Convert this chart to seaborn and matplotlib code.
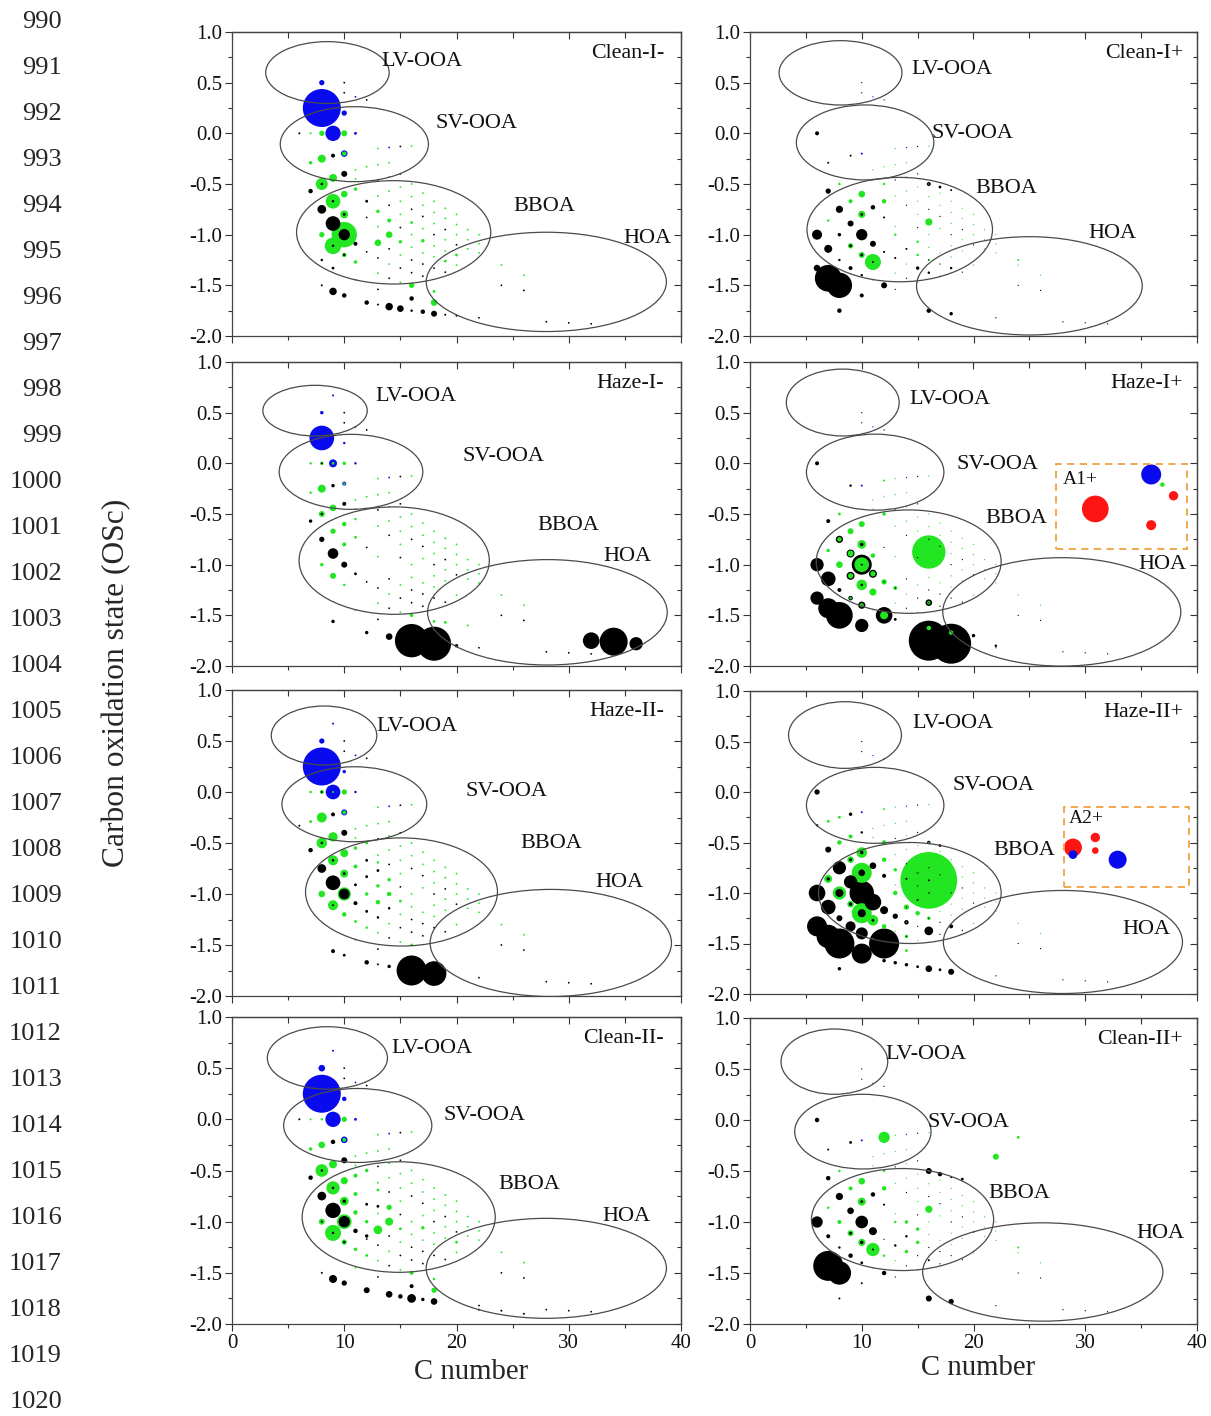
import numpy as np
import pandas as pd
import matplotlib
matplotlib.use("Agg")
import matplotlib.pyplot as plt
import seaborn as sns
from matplotlib.patches import Ellipse, Rectangle
from matplotlib.ticker import FormatStrFormatter

sns.set_theme(style="white")
plt.rcParams['font.family'] = ['Liberation Serif', 'DejaVu Serif']
plt.rcParams['axes.unicode_minus'] = False

# ---------------- data (C number, OSc, group, relative abundance) ----------------
PANEL_NAMES = ["Clean-I-", "Clean-I+", "Haze-I-", "Haze-I+",
               "Haze-II-", "Haze-II+", "Clean-II-", "Clean-II+"]

CLEAN_I_M = [
    (8, 0.25, 'b', 361), (8, 0.5, 'b', 7), (10, 0.2, 'b', 7), (9, 0.0, 'b', 59),
    (8, 0.0, 'g', 7), (10, 0.0, 'g', 9), (11, 0.0, 'b', 2), (7, 0.0, 'g', 1), (6, 0.0, 'k', 1),
    (10, -0.2, 'b', 11), (10, -0.2, 'g', 5), (8, -0.25, 'g', 16), (9, -0.22, 'k', 4), (7, -0.29, 'g', 3),
    (10, -0.4, 'k', 9), (9, -0.44, 'g', 16), (8, -0.5, 'g', 36), (8, -0.5, 'k', 1.5), (7, -0.57, 'k', 5),
    (9, -0.67, 'g', 54), (9, -0.67, 'k', 1.5), (10, -0.6, 'g', 11), (11, -0.55, 'g', 3), (8, -0.75, 'k', 19),
    (10, -0.8, 'g', 16), (10, -0.8, 'k', 2), (12, -0.67, 'k', 2), (9, -0.89, 'k', 54),
    (10, -1.0, 'g', 160), (10, -1.0, 'k', 32), (9, -1.11, 'g', 69), (9, -1.11, 'k', 1.5), (8, -1.0, 'g', 7),
    (11, -1.09, 'k', 4), (10, -1.2, 'g', 5), (10, -1.2, 'k', 1.5), (11, -1.27, 'g', 3), (8, -1.25, 'k', 1.5),
    (9, -1.33, 'k', 2), (13, -1.08, 'g', 11), (14, -1.0, 'g', 11), (14, -0.86, 'g', 4), (13, -0.77, 'g', 3),
    (15, -1.07, 'g', 3), (17, -1.06, 'g', 3), (16, -0.88, 'g', 2), (19, -1.26, 'g', 2), (20, -1.2, 'g', 2),
    (16, -1.5, 'g', 7), (18, -1.67, 'g', 11), (18, -1.56, 'g', 2), (16, -1.63, 'k', 5),
    (9, -1.56, 'k', 14), (10, -1.6, 'k', 5), (12, -1.67, 'k', 5), (14, -1.71, 'k', 14), (15, -1.73, 'k', 11),
    (17, -1.76, 'k', 5), (18, -1.78, 'k', 9), (8, -1.5, 'k', 1), (13, -1.69, 'k', 1), (16, -1.75, 'k', 1.5),
    (19, -1.79, 'k', 1), (20, -1.8, 'k', 1),
]

CLEAN_I_P = [
    (6, 0.0, 'k', 4), (10, -0.2, 'b', 1), (9, -0.22, 'k', 1), (7, -0.29, 'k', 1),
    (8, -0.5, 'g', 1.5), (12, -0.5, 'g', 1.5), (7, -0.57, 'k', 7), (10, -0.6, 'g', 11),
    (9, -0.67, 'g', 4), (12, -0.67, 'g', 5), (16, -0.5, 'k', 4), (17, -0.53, 'k', 2), (18, -0.56, 'k', 1),
    (8, -0.75, 'k', 13), (11, -0.73, 'k', 5), (10, -0.8, 'g', 13), (10, -0.8, 'k', 2), (9, -0.89, 'k', 9),
    (16, -0.875, 'g', 13), (6, -1.0, 'k', 25), (8, -1.0, 'k', 3), (10, -1.0, 'k', 32), (7, -0.86, 'g', 1.5),
    (7, -1.14, 'k', 16), (9, -1.11, 'g', 7), (9, -1.11, 'k', 2), (11, -1.09, 'k', 9), (10, -1.2, 'g', 9),
    (10, -1.2, 'k', 2), (11, -1.27, 'g', 64), (11, -1.27, 'k', 1), (8, -1.25, 'k', 1.5), (9, -1.33, 'k', 4),
    (6, -1.33, 'k', 11), (7, -1.43, 'k', 178), (8, -1.5, 'k', 160),
    (12, -1.5, 'k', 9), (10, -1.6, 'k', 4), (8, -1.75, 'k', 5), (16, -1.75, 'k', 5), (18, -1.78, 'k', 3),
    (15, -1.33, 'k', 3), (16, -1.375, 'k', 1.5), (18, -1.33, 'k', 1.5), (10, -1.4, 'k', 1.5),
    (24, -1.25, 'g', 1), (12, -0.83, 'k', 1), (12, -1.17, 'k', 1), (13, -1.0, 'g', 1.5), (14, -1.14, 'k', 1),
    (15, -1.07, 'g', 1.5), (15, -1.2, 'g', 1.5), (16, -1.25, 'g', 1), (13, -1.23, 'k', 1),
]

HAZE_I_M = [
    (8, 0.25, 'b', 152), (8, 0.5, 'b', 3), (9, 0.67, 'b', 1), (10, 0.2, 'b', 1.5),
    (7, 0.0, 'g', 1.5), (8, 0.0, 'g', 3), (8, 0.0, 'k', 1), (9, 0.0, 'b', 16), (9, 0.0, 'g', 2),
    (10, 0.0, 'g', 3), (11, 0.0, 'b', 1.5),
    (9, -0.22, 'k', 3), (10, -0.2, 'b', 4), (10, -0.2, 'g', 1.5), (8, -0.25, 'g', 16), (7, -0.29, 'g', 1.5),
    (10, -0.4, 'k', 4), (9, -0.44, 'g', 11), (8, -0.5, 'g', 9), (8, -0.5, 'k', 1.5), (7, -0.57, 'k', 3),
    (10, -0.6, 'g', 5), (9, -0.67, 'g', 7), (8, -0.75, 'k', 7), (10, -0.8, 'g', 4), (9, -0.89, 'k', 28),
    (10, -1.0, 'k', 9), (8, -1.0, 'g', 3), (9, -1.11, 'g', 9), (11, -1.09, 'k', 2), (10, -1.2, 'g', 1.5),
    (11, -0.73, 'g', 2), (11, -0.55, 'g', 1.5), (9, -1.56, 'k', 3), (12, -1.67, 'k', 3), (14, -1.71, 'k', 11),
    (16, -1.75, 'k', 278), (18, -1.78, 'k', 290), (20, -1.8, 'k', 3),
    (16, -1.5, 'g', 3), (18, -1.56, 'g', 2), (19, -1.57, 'g', 2), (21, -1.6, 'g', 1),
    (32, -1.75, 'k', 69), (34, -1.76, 'k', 196), (36, -1.78, 'k', 44),
]

HAZE_I_P = [
    (6, 0.0, 'k', 4), (12, -0.17, 'g', 1), (9, -0.22, 'k', 1.5), (10, -0.22, 'b', 1),
    (7, -0.57, 'k', 4), (8, -0.5, 'g', 2), (12, -0.5, 'g', 3), (10, -0.6, 'g', 9), (9, -0.67, 'g', 9),
    (8, -0.75, 'k', 13), (8, -0.75, 'g', 5), (10, -0.8, 'g', 19), (10, -0.8, 'k', 3), (11, -0.91, 'g', 5),
    (9, -0.89, 'k', 16), (9, -0.89, 'g', 9), (7, -0.86, 'g', 3), (6, -1.0, 'k', 44), (8, -1.0, 'g', 11),
    (10, -1.0, 'k', 100), (10, -1.0, 'g', 54), (10, -1.0, 'k', 1), (7, -1.14, 'k', 54),
    (9, -1.11, 'k', 16), (9, -1.11, 'g', 7), (11, -1.09, 'k', 16), (11, -1.09, 'g', 7),
    (10, -1.2, 'g', 28), (10, -1.2, 'k', 1.5), (11, -1.27, 'g', 13),
    (12, -1.17, 'g', 7), (13, -1.23, 'g', 4), (16, -0.875, 'g', 278), (8, -1.25, 'k', 4),
    (6, -1.33, 'k', 44), (7, -1.43, 'k', 100), (8, -1.5, 'k', 178), (9, -1.33, 'k', 5), (9, -1.33, 'g', 1.5),
    (10, -1.4, 'k', 13), (10, -1.4, 'g', 4), (10, -1.6, 'k', 44), (12, -1.5, 'k', 69), (12, -1.5, 'g', 16),
    (13, -1.54, 'k', 2), (16, -1.375, 'k', 11), (16, -1.375, 'g', 3),
    (16, -1.75, 'k', 400), (18, -1.78, 'k', 400), (16, -1.625, 'g', 5), (18, -1.67, 'g', 5),
    (20, -1.7, 'k', 3), (22, -1.8, 'k', 1.5),
    (35.9, -0.11, 'b', 100), (36.9, -0.21, 'g', 5), (37.9, -0.32, 'r', 22),
    (30.9, -0.45, 'r', 178), (35.9, -0.61, 'r', 25),
]

HAZE_II_M = [
    (8, 0.25, 'b', 361), (8, 0.5, 'b', 7), (9, 0.67, 'b', 1), (10, 0.2, 'b', 3),
    (9, 0.0, 'b', 54), (9, 0.0, 'g', 1), (8, 0.0, 'g', 4), (8, 0.0, 'k', 1), (10, 0.0, 'g', 7),
    (7, 0.0, 'g', 1.5), (11, 0.0, 'b', 1.5),
    (8, -0.25, 'g', 25), (9, -0.22, 'k', 4), (10, -0.2, 'b', 9), (10, -0.2, 'g', 4), (7, -0.29, 'g', 2),
    (6, -0.33, 'k', 1), (10, -0.4, 'k', 9), (9, -0.44, 'g', 22), (8, -0.5, 'g', 28), (8, -0.5, 'k', 1.5),
    (7, -0.57, 'k', 5), (10, -0.6, 'g', 16), (9, -0.67, 'g', 25), (9, -0.67, 'k', 1.5), (8, -0.75, 'k', 19),
    (10, -0.8, 'g', 16), (10, -0.8, 'k', 2), (9, -0.89, 'k', 54), (10, -1.0, 'g', 44), (10, -1.0, 'k', 28),
    (8, -1.0, 'g', 11), (9, -1.11, 'g', 25), (9, -1.11, 'k', 1), (11, -1.09, 'k', 4), (10, -1.2, 'g', 5),
    (11, -0.55, 'g', 3), (11, -0.73, 'g', 4), (11, -0.91, 'k', 2), (11, -1.27, 'g', 2), (12, -0.5, 'g', 2),
    (12, -0.67, 'k', 2), (12, -0.83, 'k', 2), (12, -1.0, 'g', 3), (12, -1.17, 'k', 2), (12, -1.33, 'g', 1.5),
    (13, -0.69, 'g', 1.5), (13, -0.77, 'k', 2), (13, -0.92, 'g', 3), (13, -1.08, 'g', 5), (13, -1.23, 'k', 1.5),
    (14, -0.86, 'g', 3), (14, -1.0, 'g', 5), (14, -1.14, 'k', 1.5), (15, -1.07, 'g', 2),
    (9, -1.56, 'k', 4), (10, -1.6, 'k', 2), (12, -1.67, 'k', 5), (13, -1.69, 'k', 1), (14, -1.71, 'k', 3),
    (16, -1.75, 'k', 225), (18, -1.78, 'k', 152), (16, -1.5, 'g', 2),
]

HAZE_II_P = [
    (6, 0.0, 'k', 7), (7, -0.29, 'g', 2), (8, -0.25, 'g', 2), (9, -0.22, 'k', 3), (10, -0.2, 'b', 1),
    (12, -0.17, 'g', 1), (6, -0.33, 'k', 1.5),
    (9, -0.44, 'g', 4), (10, -0.4, 'k', 1.5), (8, -0.5, 'g', 5), (12, -0.5, 'g', 5), (7, -0.57, 'k', 9),
    (10, -0.6, 'g', 28), (10, -0.6, 'k', 3), (9, -0.67, 'g', 11), (9, -0.67, 'k', 2), (11, -0.73, 'k', 11),
    (8, -0.75, 'k', 44), (10, -0.8, 'g', 100), (10, -0.8, 'k', 11), (12, -0.67, 'g', 5), (12, -0.83, 'k', 4),
    (7, -0.86, 'g', 16), (7, -0.86, 'k', 3), (9, -0.89, 'k', 44), (6, -1.0, 'k', 69), (8, -1.0, 'g', 44),
    (8, -1.0, 'k', 16), (10, -1.0, 'k', 150), (11, -1.09, 'k', 69), (12, -1.17, 'k', 16), (7, -1.14, 'k', 54),
    (9, -1.11, 'g', 11), (9, -1.11, 'k', 3), (10, -1.2, 'g', 100), (10, -1.2, 'k', 16), (11, -1.27, 'g', 28),
    (11, -1.27, 'k', 2), (8, -1.25, 'k', 9), (9, -1.33, 'k', 25), (10, -1.4, 'k', 36), (6, -1.33, 'k', 100),
    (7, -1.43, 'k', 136), (8, -1.5, 'k', 225), (10, -1.6, 'k', 100), (12, -1.5, 'k', 225),
    (16, -0.875, 'g', 803), (16, -0.875, 'k', 1), (15, -0.8, 'k', 1), (14, -0.86, 'k', 1), (16, -1.0, 'k', 1),
    (15, -1.07, 'k', 1), (13, -1.0, 'g', 5), (13, -0.77, 'g', 3), (13, -1.23, 'k', 7), (12, -1.33, 'g', 5),
    (14, -1.14, 'g', 7), (14, -1.29, 'k', 5), (15, -1.2, 'g', 5), (16, -1.375, 'k', 19), (16, -1.25, 'g', 3),
    (18, -1.33, 'k', 4), (14, -1.43, 'g', 3), (14, -1.57, 'g', 2),
    (8, -1.75, 'k', 3), (12, -1.67, 'k', 3), (13, -1.69, 'k', 3), (14, -1.71, 'k', 3), (15, -1.73, 'k', 2),
    (16, -1.75, 'k', 11), (17, -1.76, 'k', 2), (18, -1.78, 'k', 9), (16, -0.5, 'k', 3), (17, -0.53, 'k', 2),
    (28.9, -0.55, 'r', 81), (28.9, -0.62, 'b', 19), (30.9, -0.45, 'r', 22), (30.9, -0.58, 'r', 11),
    (32.9, -0.67, 'b', 81),
]

CLEAN_II_M = [
    (8, 0.25, 'b', 361), (8, 0.5, 'b', 11), (9, 0.67, 'b', 1), (10, 0.2, 'b', 5),
    (9, 0.0, 'b', 59), (10, 0.0, 'g', 7), (11, 0.0, 'b', 2), (7, 0.0, 'g', 1), (8, 0.0, 'g', 1.5), (6, 0.0, 'k', 1),
    (8, -0.25, 'g', 11), (9, -0.22, 'k', 5), (10, -0.2, 'b', 11), (10, -0.2, 'g', 4), (7, -0.29, 'g', 3),
    (10, -0.4, 'k', 9), (9, -0.44, 'g', 16), (8, -0.5, 'g', 40), (8, -0.5, 'k', 1.5), (7, -0.57, 'k', 5),
    (10, -0.6, 'g', 13), (9, -0.67, 'g', 44), (9, -0.67, 'k', 1.5), (8, -0.75, 'k', 19), (10, -0.8, 'g', 19),
    (10, -0.8, 'k', 3), (9, -0.89, 'k', 59), (10, -1.0, 'g', 54), (10, -1.0, 'k', 32), (8, -1.0, 'g', 9),
    (8, -1.0, 'k', 1), (9, -1.11, 'g', 64), (9, -1.11, 'k', 1.5), (11, -1.09, 'k', 5), (10, -1.2, 'g', 7),
    (10, -1.2, 'k', 1.5), (12, -1.14, 'k', 3), (13, -1.08, 'g', 19), (14, -1.0, 'g', 16), (14, -0.86, 'g', 7),
    (15, -1.07, 'g', 2), (17, -1.06, 'g', 3), (11, -0.55, 'g', 4), (11, -0.73, 'g', 4), (11, -0.91, 'g', 5),
    (11, -1.27, 'g', 3), (12, -0.5, 'g', 3), (12, -0.83, 'k', 2), (12, -1.0, 'g', 3), (13, -0.69, 'g', 2),
    (13, -0.85, 'k', 2), (12, -1.33, 'g', 2),
    (8, -1.5, 'k', 1), (9, -1.56, 'k', 16), (10, -1.6, 'k', 7), (12, -1.67, 'k', 9), (14, -1.71, 'k', 11),
    (15, -1.73, 'k', 5), (16, -1.75, 'k', 19), (17, -1.76, 'k', 3), (18, -1.78, 'k', 11), (16, -1.63, 'k', 4),
    (16, -1.5, 'g', 4), (18, -1.67, 'g', 7), (18, -1.56, 'g', 1.5), (20, -1.2, 'g', 2),
    (22, -1.86, 'k', 1), (24, -1.87, 'k', 1), (26, -1.9, 'k', 1),
]

CLEAN_II_P = [
    (6, 0.0, 'k', 5), (12, -0.17, 'g', 32), (22, -0.36, 'g', 9), (24, -0.17, 'g', 2), (9, -0.22, 'k', 2),
    (10, -0.2, 'b', 1), (7, -0.29, 'k', 1),
    (7, -0.57, 'k', 5), (10, -0.6, 'g', 11), (9, -0.67, 'g', 4), (12, -0.67, 'g', 5), (8, -0.5, 'g', 1.5),
    (12, -0.5, 'g', 1.5), (16, -0.5, 'k', 9), (17, -0.53, 'k', 5), (19, -0.58, 'k', 2), (18, -0.56, 'k', 1),
    (8, -0.75, 'k', 13), (11, -0.73, 'k', 5), (10, -0.8, 'g', 16), (10, -0.8, 'k', 2), (9, -0.89, 'k', 11),
    (16, -0.875, 'g', 13), (6, -1.0, 'k', 32), (10, -1.0, 'k', 40), (8, -1.0, 'g', 4), (7, -0.86, 'g', 1.5),
    (11, -1.09, 'k', 16), (9, -1.11, 'g', 9), (9, -1.11, 'k', 2), (7, -1.14, 'k', 4), (10, -1.2, 'g', 13),
    (10, -1.2, 'k', 3), (11, -1.27, 'g', 44), (11, -1.27, 'k', 1), (9, -1.33, 'k', 5), (8, -1.25, 'k', 1.5),
    (7, -1.43, 'k', 225), (8, -1.5, 'k', 136), (12, -1.5, 'k', 5), (10, -1.4, 'k', 2),
    (16, -1.75, 'k', 9), (18, -1.78, 'k', 7), (24, -1.25, 'g', 1),
    (14, -1.0, 'g', 3), (15, -1.07, 'g', 3), (15, -1.2, 'g', 3), (14, -1.29, 'g', 3), (13, -1.23, 'k', 1.5),
    (12, -1.33, 'g', 1.5), (12, -0.83, 'k', 1), (14, -1.14, 'k', 1.5), (13, -1.0, 'g', 1.5),
    (16, -1.375, 'k', 1), (10, -1.6, 'k', 1), (8, -1.75, 'k', 1),
]

# faint background formula dots (C number, OSc, group)
TINY_GRID = [
    (11, -0.36, 'g'), (11, -0.45, 'g'), (11, -1.45, 'g'),
    (12, -0.33, 'g'), (12, -0.83, 'k'), (12, -1.17, 'k'),
    (13, -0.31, 'g'), (13, -0.46, 'k'), (13, -0.62, 'g'), (13, -0.92, 'g'), (13, -1.23, 'k'), (13, -1.38, 'g'), (13, -1.54, 'k'),
    (14, -0.29, 'g'), (14, -0.43, 'g'), (14, -0.57, 'g'), (14, -0.71, 'k'), (14, -1.14, 'k'), (14, -1.29, 'g'), (14, -1.43, 'k'),
    (15, -0.4, 'k'), (15, -0.53, 'g'), (15, -0.67, 'g'), (15, -0.8, 'g'), (15, -0.93, 'k'), (15, -1.2, 'g'), (15, -1.33, 'k'), (15, -1.47, 'g'),
    (16, -0.5, 'g'), (16, -0.625, 'g'), (16, -0.75, 'k'), (16, -1.0, 'g'), (16, -1.125, 'g'), (16, -1.25, 'k'), (16, -1.375, 'k'),
    (17, -0.59, 'g'), (17, -0.71, 'g'), (17, -0.82, 'k'), (17, -0.94, 'g'), (17, -1.18, 'g'), (17, -1.29, 'k'), (17, -1.41, 'k'),
    (18, -0.67, 'g'), (18, -0.78, 'g'), (18, -0.89, 'g'), (18, -1.0, 'k'), (18, -1.11, 'g'), (18, -1.22, 'g'), (18, -1.33, 'k'),
    (19, -0.74, 'g'), (19, -0.84, 'g'), (19, -0.95, 'k'), (19, -1.05, 'g'), (19, -1.16, 'g'), (19, -1.37, 'k'),
    (20, -0.8, 'g'), (20, -0.9, 'g'), (20, -1.0, 'g'), (20, -1.1, 'k'), (20, -1.3, 'g'),
    (21, -0.95, 'g'), (21, -1.05, 'g'), (21, -1.14, 'g'), (22, -1.0, 'g'), (22, -1.09, 'g'), (22, -1.18, 'g'),
    (24, -1.5, 'k'), (26, -1.55, 'k'), (28, -1.86, 'k'), (30, -1.87, 'k'), (32, -1.88, 'k'),
    (24, -1.3, 'g'), (26, -1.4, 'g'), (22, -1.82, 'k'),
    (10, 0.5, 'k'), (11, 0.36, 'b'), (12, 0.33, 'k'), (10, 0.4, 'k'),
    (13, -0.15, 'g'), (14, -0.14, 'b'), (15, -0.13, 'k'), (16, -0.125, 'g'),
]
TINY_VALUE = [0.8, 0.4]      # left / right column

PANEL_DATA = [CLEAN_I_M, CLEAN_I_P, HAZE_I_M, HAZE_I_P, HAZE_II_M, HAZE_II_P, CLEAN_II_M, CLEAN_II_P]

# ellipses (centre C, centre OSc, width, height): LV-OOA, SV-OOA, BBOA, HOA
ELLIPSES = [
    [(8.5, 0.60, 11.0, 0.61), (10.9, -0.107, 13.2, 0.74), (14.4, -0.977, 17.3, 1.02), (28.0, -1.466, 21.4, 0.98)],
    [(8.1, 0.597, 11.0, 0.635), (10.3, -0.09, 12.3, 0.74), (13.4, -0.95, 16.6, 1.03), (25.0, -1.505, 20.2, 0.97)],
    [(7.4, 0.52, 9.3, 0.50), (10.6, -0.084, 12.8, 0.74), (14.45, -0.96, 16.95, 1.06), (28.1, -1.47, 21.35, 1.04)],
    [(8.3, 0.60, 10.1, 0.66), (11.2, -0.087, 12.3, 0.75), (14.2, -0.97, 16.55, 1.02), (27.9, -1.466, 21.3, 1.07)],
    [(8.2, 0.554, 9.4, 0.578), (10.9, -0.12, 12.9, 0.735), (15.1, -0.98, 17.1, 1.06), (28.4, -1.48, 21.5, 1.05)],
    [(8.5, 0.564, 10.1, 0.66), (11.2, -0.132, 12.3, 0.752), (14.3, -1.0, 16.35, 1.0), (28.0, -1.485, 21.4, 1.02)],
    [(8.5, 0.60, 10.7, 0.61), (11.2, -0.06, 13.2, 0.723), (14.85, -0.955, 17.2, 1.08), (28.0, -1.456, 21.4, 0.977)],
    [(7.55, 0.572, 9.55, 0.64), (10.1, -0.114, 12.2, 0.732), (13.65, -0.976, 16.3, 1.0), (26.2, -1.49, 21.5, 0.964)],
]
REGION_NAMES = ["LV-OOA", "SV-OOA", "BBOA", "HOA"]
REGION_LABEL_POS = [
    [(13.3, 0.71), (18.1, 0.10), (25.1, -0.72), (34.9, -1.04)],
    [(14.4, 0.625), (16.2, 0.0), (20.2, -0.54), (30.3, -0.99)],
    [(12.8, 0.66), (20.5, 0.07), (27.2, -0.61), (33.1, -0.92)],
    [(14.3, 0.63), (18.5, -0.01), (21.1, -0.54), (34.75, -1.0)],
    [(12.9, 0.64), (20.8, 0.0), (25.7, -0.50), (32.4, -0.89)],
    [(14.5, 0.68), (18.1, 0.06), (21.8, -0.58), (33.3, -1.36)],
    [(14.2, 0.69), (18.8, 0.04), (23.7, -0.64), (33.0, -0.95)],
    [(12.1, 0.64), (15.9, -0.02), (21.3, -0.72), (34.6, -1.11)],
]
# dashed boxes: panel index, (C0, OSc0, width, height), label, label position
BOXES = [
    (3, (27.4, -0.85, 11.7, 0.84), "A1+", (28.0, -0.16)),
    (5, (28.1, -0.937, 11.2, 0.792), "A2+", (28.5, -0.26)),
]

XTICKS = [0, 10, 20, 30, 40]
XMINOR = [5, 15, 25, 35]
YTICKS = [-2.0, -1.5, -1.0, -0.5, 0.0, 0.5, 1.0]
YMINOR = [-1.75, -1.25, -0.75, -0.25, 0.25, 0.75]
LINE_NUMBERS = list(range(990, 1021))

PALETTE = {'k': '#000000', 'g': '#22e622', 'b': '#0a0aee', 'r': '#ff1414'}

# ---------------- figure ----------------
W, H = 1211, 1416
fig = plt.figure(figsize=(W / 100, H / 100), dpi=100)

COLS = [(232, 681), (750, 1197)]
ROWS = [[(32, 336), (32, 336)], [(362, 666), (362, 666)],
        [(690, 996), (691, 994)], [(1017, 1324), (1018, 1324)]]
LABEL_X = [0.962, 0.969]

VMAX = 1000.0
SMAX = VMAX * (2 * 0.72) ** 2   # value = radius^2 in pixels


def add_inward(ax):
    sy = ax.secondary_yaxis('right')
    sy.set_yticks(YTICKS)
    sy.set_yticks(YMINOR, minor=True)
    sy.tick_params(which='both', direction='in', labelright=False, labelleft=False,
                   color='#333333', width=0.8)
    sy.tick_params(which='major', length=5)
    sy.tick_params(which='minor', length=3)
    sy.spines['right'].set_color('#444444')
    sy.spines['right'].set_linewidth(0.9)
    sx = ax.secondary_xaxis('top')
    sx.set_xticks(XTICKS)
    sx.set_xticks(XMINOR, minor=True)
    sx.tick_params(which='both', direction='in', labeltop=False, labelbottom=False,
                   color='#333333', width=0.8)
    sx.tick_params(which='major', length=5)
    sx.tick_params(which='minor', length=4)
    sx.spines['top'].set_color('#444444')
    sx.spines['top'].set_linewidth(0.9)


for i, name in enumerate(PANEL_NAMES):
    r, c = divmod(i, 2)
    x0, x1 = COLS[c]
    y0, y1 = ROWS[r][c]
    ax = fig.add_axes([x0 / W, 1 - y1 / H, (x1 - x0) / W, (y1 - y0) / H])

    rows = [dict(C=x, OSc=y, group=g, abund=v) for x, y, g, v in PANEL_DATA[i]]
    rows += [dict(C=x, OSc=y, group=g, abund=TINY_VALUE[c]) for x, y, g in TINY_GRID]
    df = pd.DataFrame(rows).sort_values('abund', ascending=False, kind='stable')

    sns.scatterplot(data=df, x='C', y='OSc', hue='group', size='abund',
                    palette=PALETTE, sizes=(0, SMAX), size_norm=(0, VMAX),
                    linewidth=0, legend=False, ax=ax, zorder=2)

    for (cx, cy, w, h) in ELLIPSES[i]:
        ax.add_patch(Ellipse((cx, cy), w, h, fill=False, ec='#4a4a4a', lw=0.9, zorder=4))
    for (tx, ty), lab in zip(REGION_LABEL_POS[i], REGION_NAMES):
        ax.text(tx, ty, lab, ha='left', va='center', fontsize=16, color='#111111', zorder=5)

    for bi, rect, blab, (bx, by) in BOXES:
        if bi == i:
            ax.add_patch(Rectangle(rect[:2], rect[2], rect[3], fill=False, ec='#f0a040',
                                   lw=1.3, ls=(0, (4, 3)), zorder=4))
            ax.text(bx, by, blab, ha='left', va='center', fontsize=14, color='#111111')

    ax.text(LABEL_X[c], 0.93, name, transform=ax.transAxes, ha='right', va='center',
            fontsize=15.8, color='#111111')

    ax.set_xlim(0, 40)
    ax.set_ylim(-2, 1)
    ax.set_xticks(XTICKS)
    ax.set_xticks(XMINOR, minor=True)
    ax.set_yticks(YTICKS)
    ax.set_yticks(YMINOR, minor=True)
    ax.yaxis.set_major_formatter(FormatStrFormatter('%.1f'))
    ax.set(xlabel='', ylabel='')
    ax.tick_params(which='both', direction='out', left=True, bottom=True,
                   color='#333333', width=0.8, labelsize=15, labelcolor='#111111', pad=2)
    ax.tick_params(which='major', length=5)
    ax.tick_params(which='minor', length=3)
    if r != 3:
        ax.tick_params(labelbottom=False)
    for sp in ax.spines.values():
        sp.set_color('#444444')
        sp.set_linewidth(0.9)
    ax.set_facecolor('white')
    add_inward(ax)

# axis titles
fig.text(471 / W, 1 - 1372 / H, "C number", ha='center', va='center', fontsize=20.7)
fig.text(978 / W, 1 - 1368 / H, "C number", ha='center', va='center', fontsize=20.7)
fig.text(117 / W, 1 - 683 / H, "Carbon oxidation state (OSc)", rotation=90,
         ha='center', va='center', fontsize=22.7)

# manuscript line numbers
for k, n in enumerate(LINE_NUMBERS):
    fig.text(62 / W, 1 - (22 + 46 * k) / H, str(n), ha='right', va='center', fontsize=19)

fig.savefig("out.png", dpi=100, facecolor='white')
